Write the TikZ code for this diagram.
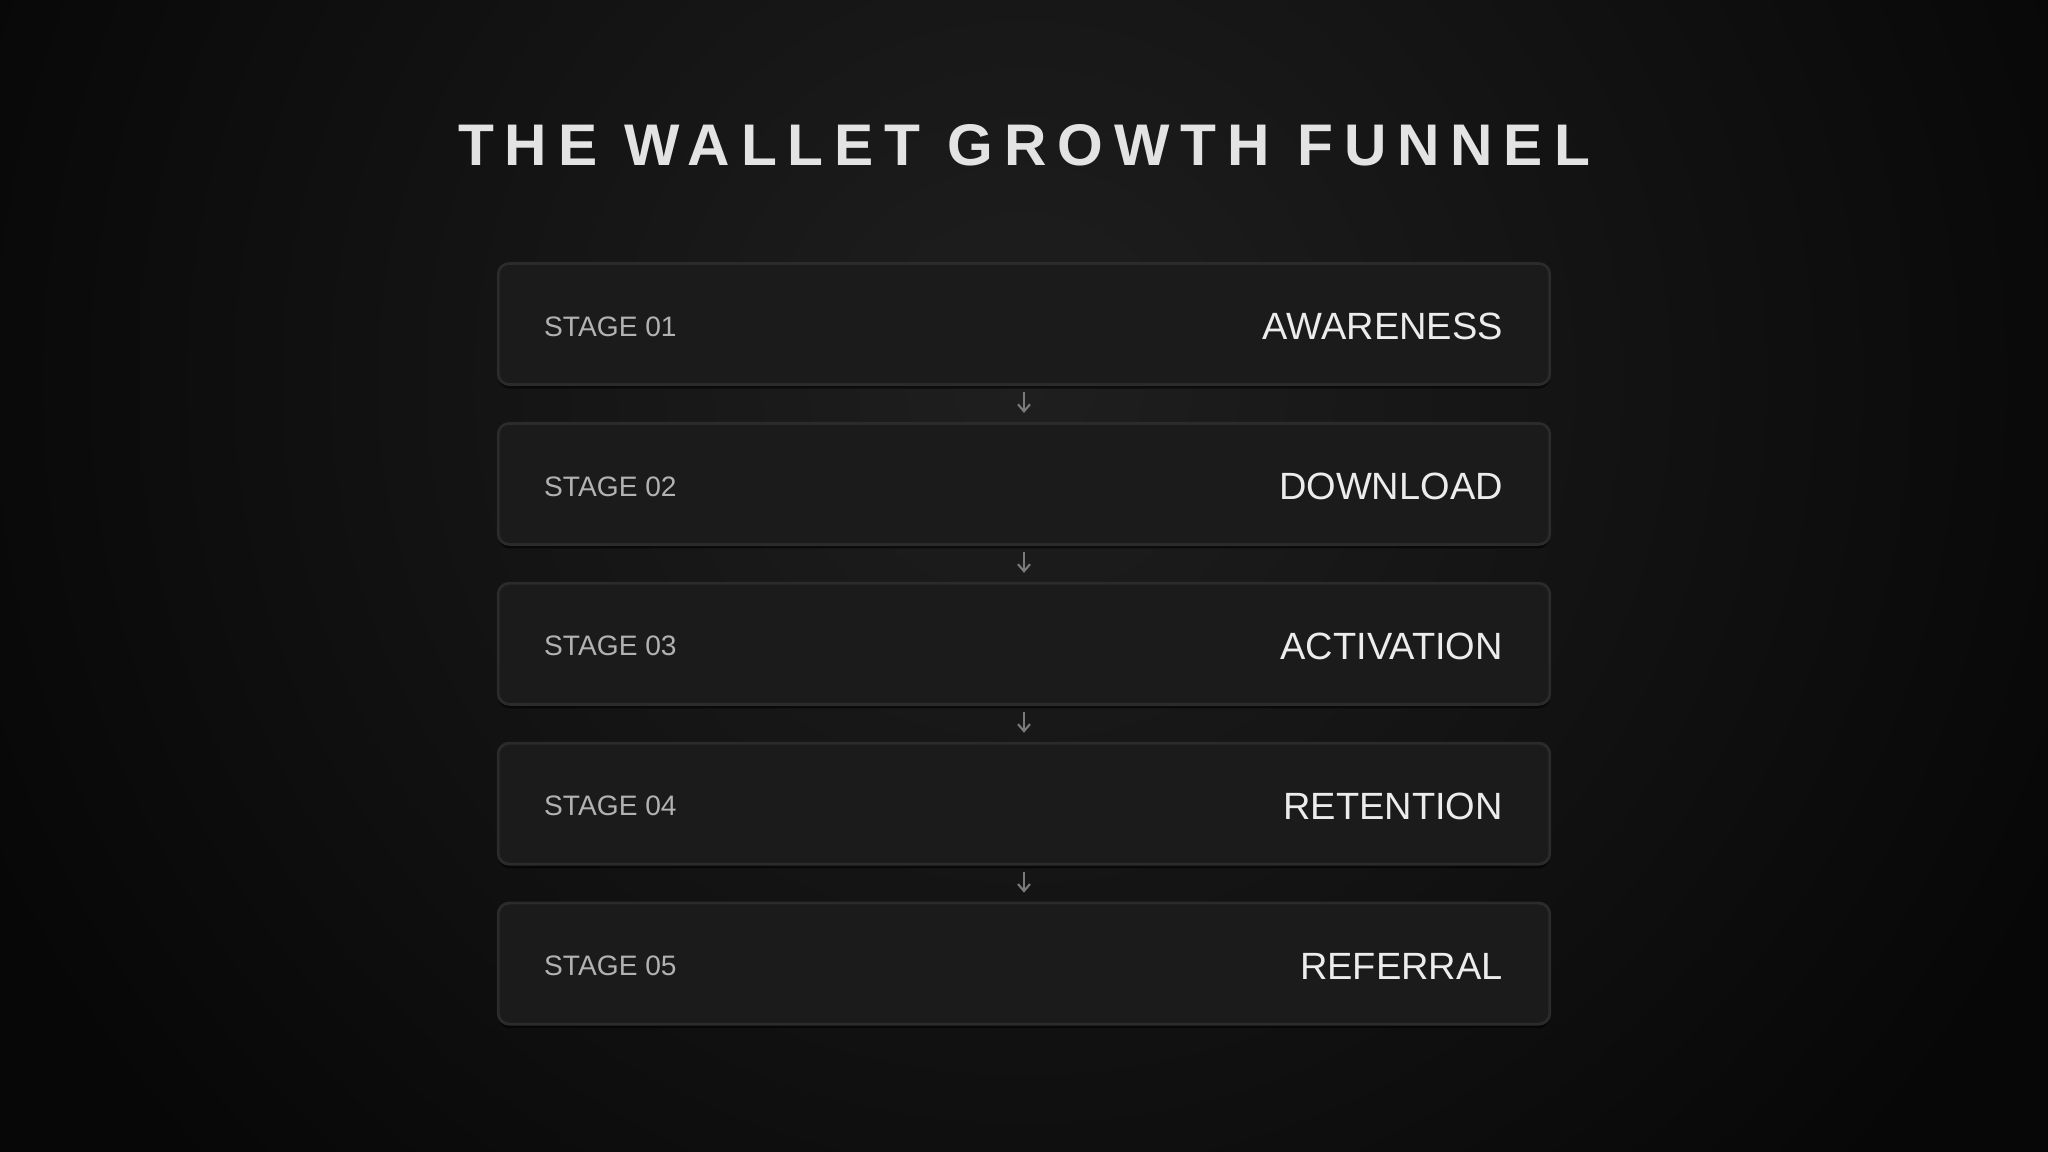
\documentclass[tikz,border=0pt]{standalone}
\usepackage{fontspec}
\setmainfont{Liberation Sans}
\newfontfamily\titlefont[LetterSpace=18.6]{Liberation Sans}
\usetikzlibrary{positioning,arrows.meta,shadows}
\definecolor{bgglow}{HTML}{1F1F1F}
\definecolor{bgdark}{HTML}{070707}
\definecolor{boxfill}{HTML}{1B1B1C}
\definecolor{boxline}{HTML}{2B2B2C}
\definecolor{numgray}{HTML}{B2B2B2}
\definecolor{namegray}{HTML}{ECECEC}
\definecolor{flowgray}{HTML}{7A7A7A}
\begin{document}
\begin{tikzpicture}[x = 0.01cm, y = -0.01cm, line width = 0.8pt,
	stagebox/.style = {draw = boxline, fill = boxfill, rounded corners = 0.11cm,
		minimum width = 10.51cm, minimum height = 1.21cm, inner sep = 0pt,
		drop shadow = {shadow xshift = 0pt, shadow yshift = -0.04cm, opacity = 0.55, fill = black}},
	stagenum/.style = {anchor = west, text = numgray, font = \fontsize{8}{10}\selectfont, inner sep = 0pt},
	stagename/.style = {anchor = east, text = namegray, font = \fontsize{10.8}{13}\selectfont, inner sep = 0pt},
	flow/.style = {draw = flowgray, line width = 0.6pt, -{Straight Barb[length = 0.07cm, width = 0.12cm]},
		shorten <= 0.06cm, shorten >= 0.09cm}]
	\useasboundingbox (0,0) rectangle (2048,1152);
	\fill[bgdark] (0,0) rectangle (2048,1152);
	\begin{scope}
	\clip (0,0) rectangle (2048,1152);
	\shade[inner color = bgglow, outer color = bgdark] (1024,380) circle (1150);
	\end{scope}
	\node (title) at (1024,145) [text = namegray!92!gray, font = \titlefont\bfseries\fontsize{16.7}{20}\selectfont] {THE WALLET GROWTH FUNNEL};
	\node (s1) at (1024,324) [stagebox] {};
	\node (s2) [stagebox, below = 0.36cm of s1] {};
	\node (s3) [stagebox, below = 0.36cm of s2] {};
	\node (s4) [stagebox, below = 0.36cm of s3] {};
	\node (s5) [stagebox, below = 0.36cm of s4] {};
	\node (n1) at ([xshift = 0.46cm, yshift = -0.025cm]s1.west) [stagenum] {STAGE 01};
	\node (n2) at ([xshift = 0.46cm, yshift = -0.025cm]s2.west) [stagenum] {STAGE 02};
	\node (n3) at ([xshift = 0.46cm, yshift = -0.025cm]s3.west) [stagenum] {STAGE 03};
	\node (n4) at ([xshift = 0.46cm, yshift = -0.025cm]s4.west) [stagenum] {STAGE 04};
	\node (n5) at ([xshift = 0.46cm, yshift = -0.025cm]s5.west) [stagenum] {STAGE 05};
	\node (t1) at ([xshift = -0.47cm, yshift = -0.025cm]s1.east) [stagename] {AWARENESS};
	\node (t2) at ([xshift = -0.47cm, yshift = -0.025cm]s2.east) [stagename] {DOWNLOAD};
	\node (t3) at ([xshift = -0.47cm, yshift = -0.025cm]s3.east) [stagename] {ACTIVATION};
	\node (t4) at ([xshift = -0.47cm, yshift = -0.025cm]s4.east) [stagename] {RETENTION};
	\node (t5) at ([xshift = -0.47cm, yshift = -0.025cm]s5.east) [stagename] {REFERRAL};
	\draw[flow] (s1.south) -- (s2.north);
	\draw[flow] (s2.south) -- (s3.north);
	\draw[flow] (s3.south) -- (s4.north);
	\draw[flow] (s4.south) -- (s5.north);
\end{tikzpicture}
\end{document}
